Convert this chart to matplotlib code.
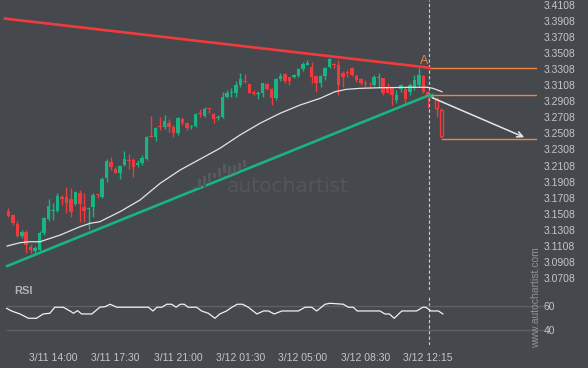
import numpy as np
import matplotlib.pyplot as plt
from matplotlib.patches import Rectangle

plt.rcParams['font.family'] = ['Liberation Sans', 'DejaVu Sans']

# 15-minute candles
opens = [3.1543, 3.1494, 3.1382, 3.1233, 3.1286, 3.1100, 3.1050, 3.1059, 3.1274, 3.1444,
         3.1550, 3.1547, 3.1717, 3.1721, 3.1692, 3.1630, 3.1767, 3.1593, 3.1574, 3.1589,
         3.1748, 3.1721, 3.1957, 3.2156, 3.2065, 3.2019, 3.2115, 3.2183, 3.2177, 3.2115,
         3.2136, 3.2189, 3.2471, 3.2459, 3.2603, 3.2590, 3.2640, 3.2590, 3.2508, 3.2686,
         3.2635, 3.2587, 3.2603, 3.2764, 3.2723, 3.2826, 3.2744, 3.2702, 3.2707, 3.2963,
         3.3012, 3.3012, 3.3108, 3.3158, 3.3117, 3.3025, 3.2997, 3.3005, 3.3117, 3.3055,
         3.2951, 3.3179, 3.3241, 3.3204, 3.3204, 3.3220, 3.3303, 3.3357, 3.3336, 3.3220,
         3.3137, 3.3220, 3.3328, 3.3369, 3.3357, 3.3261, 3.3274, 3.3316, 3.3220, 3.3179,
         3.3129, 3.3121, 3.3108, 3.3201, 3.3192, 3.3080, 3.3087, 3.2922, 3.3055, 3.3055,
         3.3017, 3.3067, 3.3108, 3.3224, 3.3025, 3.2943, 3.2934, 3.2798]
closes = [3.1485, 3.1391, 3.1233, 3.1286, 3.1121, 3.1059, 3.1088, 3.1274, 3.1456, 3.1605,
          3.1556, 3.1730, 3.1692, 3.1646, 3.1531, 3.1783, 3.1630, 3.1547, 3.1581, 3.1742,
          3.1742, 3.1941, 3.2164, 3.2094, 3.2019, 3.2102, 3.2189, 3.2171, 3.2094, 3.2143,
          3.2206, 3.2462, 3.2462, 3.2574, 3.2590, 3.2661, 3.2583, 3.2508, 3.2702, 3.2640,
          3.2573, 3.2590, 3.2744, 3.2744, 3.2810, 3.2810, 3.2686, 3.2715, 3.2963, 3.3012,
          3.3025, 3.3108, 3.3179, 3.3142, 3.3012, 3.2997, 3.3012, 3.3129, 3.3055, 3.2943,
          3.3179, 3.3220, 3.3162, 3.3162, 3.3232, 3.3307, 3.3369, 3.3378, 3.3211, 3.3137,
          3.3220, 3.3316, 3.3427, 3.3357, 3.3108, 3.3211, 3.3261, 3.3232, 3.3170, 3.3137,
          3.3117, 3.3117, 3.3204, 3.3204, 3.3005, 3.3012, 3.2984, 3.2984, 3.3108, 3.2931,
          3.3108, 3.3170, 3.3232, 3.3025, 3.2963, 3.2975, 3.2819, 3.2475]
highs = [3.1584, 3.1506, 3.1419, 3.1307, 3.1307, 3.1133, 3.1109, 3.1295, 3.1473, 3.1689,
         3.1643, 3.1771, 3.1742, 3.1845, 3.1829, 3.1792, 3.1804, 3.1767, 3.1597, 3.1763,
         3.1767, 3.1970, 3.2185, 3.2218, 3.2094, 3.2115, 3.2292, 3.2251, 3.2202, 3.2177,
         3.2239, 3.2475, 3.2723, 3.2587, 3.2715, 3.2736, 3.2682, 3.2611, 3.2715, 3.2715,
         3.2651, 3.2611, 3.2760, 3.2806, 3.2835, 3.2829, 3.2760, 3.2736, 3.3017, 3.3046,
         3.3067, 3.3162, 3.3261, 3.3241, 3.3129, 3.3046, 3.3034, 3.3133, 3.3129, 3.3071,
         3.3192, 3.3254, 3.3254, 3.3211, 3.3245, 3.3316, 3.3398, 3.3419, 3.3390, 3.3232,
         3.3232, 3.3336, 3.3440, 3.3382, 3.3419, 3.3282, 3.3295, 3.3328, 3.3245, 3.3192,
         3.3170, 3.3149, 3.3232, 3.3261, 3.3192, 3.3129, 3.3087, 3.3046, 3.3121, 3.3080,
         3.3129, 3.3232, 3.3316, 3.3232, 3.3034, 3.3005, 3.2959, 3.2819]
lows = [3.1473, 3.1370, 3.1221, 3.1208, 3.1022, 3.1022, 3.1009, 3.1034, 3.1245, 3.1423,
        3.1432, 3.1535, 3.1618, 3.1519, 3.1469, 3.1618, 3.1407, 3.1410, 3.1316, 3.1473,
        3.1705, 3.1701, 3.1907, 3.2053, 3.2012, 3.1937, 3.2102, 3.2061, 3.1962, 3.2094,
        3.2115, 3.2177, 3.2459, 3.2416, 3.2549, 3.2557, 3.2528, 3.2466, 3.2487, 3.2611,
        3.2549, 3.2568, 3.2590, 3.2715, 3.2711, 3.2757, 3.2636, 3.2674, 3.2695, 3.2943,
        3.2963, 3.2963, 3.3087, 3.3129, 3.3005, 3.2984, 3.2931, 3.2963, 3.3046, 3.2860,
        3.2922, 3.3162, 3.3129, 3.3108, 3.3195, 3.3211, 3.3286, 3.3357, 3.3129, 3.3025,
        3.3080, 3.3170, 3.3316, 3.3316, 3.2984, 3.3087, 3.3211, 3.3220, 3.3149, 3.3108,
        3.3067, 3.3080, 3.3096, 3.3067, 3.2984, 3.3005, 3.2860, 3.2881, 3.3021, 3.2881,
        3.2984, 3.3046, 3.3087, 3.3005, 3.2823, 3.2943, 3.2715, 3.2446]
breakout_from = 96   # candles drawn hollow after the breakout

# moving average (candle position, price)
ma_pos = [-0.3, 2.6, 4.8, 7.1, 8.2, 11.6, 16, 18.3, 20.5, 25, 29.5, 34, 38.5, 43, 47.4,
          51.9, 56.4, 60.9, 65.4, 69.9, 73.2, 75.8, 78.8, 83.3, 90.7, 93.9, 95.2, 97.2]
ma_val = [3.1109, 3.1150, 3.1162, 3.1162, 3.1183, 3.1245, 3.1348, 3.1391, 3.1411, 3.1535,
          3.1680, 3.1887, 3.2053, 3.2189, 3.2322, 3.2487, 3.2633, 3.2757, 3.2860, 3.2943,
          3.3025, 3.3055, 3.3067, 3.3075, 3.3080, 3.3080, 3.3067, 3.3025]

# RSI (candle position, value)
rsi_pos = [-0.4, 0.7, 2.6, 4.5, 6.3, 7.8, 9.3, 10.4, 12.3, 13.8, 14.6, 15.5, 16.4, 18.7,
           20.5, 21.7, 22.8, 24.3, 31.4, 32.4, 33.3, 34.4, 35.5, 36.6, 37.6, 38.5, 39.4,
           40.3, 42.2, 43.3, 44.8, 46.3, 47.4, 48.9, 50.1, 51.3, 52.5, 53.8, 55.7, 57.2,
           58.3, 59.6, 61.3, 65, 66.5, 68, 69.1, 71, 72.1, 75.1, 76.2, 77.3, 78.2, 83.3,
           84.4, 85.4, 86.5, 88.2, 91.5, 92.9, 93.6, 94.7, 96.4, 97.4]
rsi_val = [58.3, 56.1, 53.6, 50, 50, 53.6, 54.2, 59.2, 59.2, 56.1, 54.2, 56.4, 53.6, 53.6,
           59.2, 59.7, 61.7, 59.2, 59.2, 56.1, 59.2, 59.2, 61.7, 61.7, 59.2, 61.7, 61.7,
           59.2, 59.2, 56.1, 54.2, 50, 53.6, 56.1, 59.2, 61.7, 61.7, 59.2, 53.6, 56.1,
           56.1, 53.6, 56.1, 56.1, 59.2, 59.2, 56.1, 61.7, 62.5, 61.7, 59.2, 59.2, 56.1, 56.1,
           53.6, 53.6, 50, 56.1, 56.1, 59.2, 59.2, 56.1, 56.1, 53.6]

# pattern lines
resistance = ([-0.76, 94.4], [3.3933, 3.3323])
support = ([-0.25, 94.4], [3.0861, 3.2984])
breakout_pos = 94.4
level_top = 3.3316
level_break = 3.2984
level_target = 3.2438
arrow_from = (94.5, 3.2963)
arrow_to = (116.2, 3.2446)
label_a = (93.1, 3.3406)

tick_pos = [10, 24, 38, 52, 66, 80, 94]
tick_labels = ['3/11 14:00', '3/11 17:30', '3/11 21:00', '3/12 01:30',
               '3/12 05:00', '3/12 08:30', '3/12 12:15']
price_ticks = [3.0708 + 0.02 * k for k in range(18)]

bg = '#45484d'
green = '#19b482'
red = '#ef3b3d'
orange = '#f08540'
txt = '#c4c6c9'

W, H = 588, 368
fig = plt.figure(figsize=(W / 100, H / 100), dpi=100, facecolor=bg)
ax = fig.add_axes([0, 78 / H, 537 / W, 290 / H])
rx = fig.add_axes([0, 23 / H, 537 / W, 50 / H])
for a in (ax, rx):
    a.set_facecolor(bg)
    for s in a.spines.values():
        s.set_visible(False)
    a.set_xlim(-1.88, 118.5)
    a.yaxis.tick_right()
    a.tick_params(length=0, labelsize=7.5, labelcolor=txt, pad=5)
ax.set_ylim(3.0563, 3.4164)
rx.set_ylim(27.75, 69.4)

# watermark
fig.text(287.5 / W, 1 - 186 / H, 'autochartist', ha='center', va='center',
         fontsize=14.5, color='#52555a', family='DejaVu Sans')
logo = [(193, 186.7, 188.3), (198, 179.3, 188.3), (203, 176, 186.7), (208, 172.7, 181.7),
        (213, 173.3, 178.3), (218, 168.3, 176.7), (223, 164, 173.3), (228, 166, 175),
        (233, 165, 173.3), (238, 163.3, 170), (243, 160, 166.7)]
for x0, y0, y1 in logo:
    fig.add_artist(Rectangle((x0 / W, 1 - y1 / H), 2.7 / W, (y1 - y0) / H,
                             transform=fig.transFigure, color='#55585d', lw=0))

# candles
o, c, h, l = map(np.array, (opens, closes, highs, lows))
idx = np.arange(len(c))
col = np.where(c >= o, green, red)
ax.vlines(idx, l, h, colors=col, lw=1, zorder=3)
lo = np.minimum(o, c)
hh = np.maximum(np.abs(c - o), 0.0009)
solid = idx < breakout_from
ax.bar(idx[solid], hh[solid], bottom=lo[solid], width=0.78, color=col[solid], lw=0, zorder=4)
ax.bar(idx[~solid], hh[~solid], bottom=lo[~solid], width=0.7, color=bg,
       edgecolor=col[~solid], lw=1, zorder=4)

ax.plot(ma_pos, ma_val, color='#e4e4e4', lw=0.9, zorder=5)
ax.plot(*resistance, color=red, lw=1.9, zorder=6)
ax.plot(*support, color=green, lw=1.9, zorder=6)

for y, x0 in ((level_top, breakout_pos), (level_break, breakout_pos), (level_target, 97.3)):
    ax.plot([x0, 118.5], [y, y], color=orange, lw=1, zorder=5)
ax.annotate('', xy=arrow_to, xytext=arrow_from,
            arrowprops=dict(arrowstyle='->', color='#e6e6e6', lw=1.1,
                            mutation_scale=10), zorder=7)
ax.text(*label_a, 'A', color=orange, fontsize=9, ha='center', va='center')

ax.set_yticks(price_ticks)
ax.set_yticklabels([f'{v:.4f}' for v in price_ticks])
ax.set_xticks([])

for a in (ax, rx):
    a.axvline(breakout_pos, color='#cfcfcf', lw=0.8, ls=(0, (3, 2)), zorder=2)

# RSI panel
for lvl in (60, 40):
    rx.plot([-0.38, 119.9], [lvl, lvl], color='#5e6166', lw=0.9, clip_on=False)
rx.plot(rsi_pos, rsi_val, color='#f0f0f0', lw=0.9)
rx.set_yticks([40, 60])
rx.set_yticklabels(['40', '60'])
rx.set_xticks(tick_pos)
rx.set_xticklabels(tick_labels)
rx.tick_params(axis='x', pad=6)
fig.text(14 / W, 1 - 291 / H, 'RSI', fontsize=8, fontweight='bold', color='#aeb1b5',
         va='center')
fig.text(536 / W, 1 - 297.5 / H, 'www.autochartist.com', rotation=90, ha='center',
         va='center', fontsize=7.5, color='#8f9297')

fig.savefig('out.png', dpi=100, facecolor=bg)
